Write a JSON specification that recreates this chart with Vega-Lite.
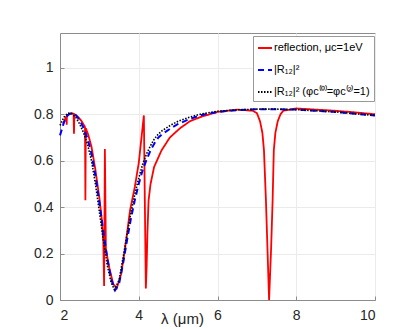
{
  "$schema": "https://vega.github.io/schema/vega-lite/v6.json",
  "autosize": "none",
  "width": 315,
  "height": 267,
  "padding": {"left": 60, "top": 33, "right": 32, "bottom": 29},
  "config": {
    "font": "Liberation Sans",
    "view": {"stroke": "#8c8c8c", "strokeWidth": 1},
    "axis": {
      "domainColor": "#8c8c8c",
      "gridColor": "#ebebeb",
      "gridWidth": 1,
      "tickColor": "#8c8c8c",
      "labelColor": "#262626",
      "titleColor": "#262626",
      "labelFontSize": 14,
      "labelFont": "Liberation Sans",
      "titleFont": "Liberation Sans"
    }
  },
  "data": {
    "values": [
      {"series": "refl", "x": 2.08, "y": 0.76},
      {"series": "refl", "x": 2.15, "y": 0.787},
      {"series": "refl", "x": 2.165, "y": 0.79},
      {"series": "refl", "x": 2.17, "y": 0.755},
      {"series": "refl", "x": 2.175, "y": 0.792},
      {"series": "refl", "x": 2.22, "y": 0.80},
      {"series": "refl", "x": 2.30, "y": 0.805},
      {"series": "refl", "x": 2.345, "y": 0.80},
      {"series": "refl", "x": 2.355, "y": 0.716},
      {"series": "refl", "x": 2.365, "y": 0.80},
      {"series": "refl", "x": 2.45, "y": 0.79},
      {"series": "refl", "x": 2.55, "y": 0.77},
      {"series": "refl", "x": 2.635, "y": 0.745},
      {"series": "refl", "x": 2.645, "y": 0.43},
      {"series": "refl", "x": 2.655, "y": 0.74},
      {"series": "refl", "x": 2.72, "y": 0.71},
      {"series": "refl", "x": 2.80, "y": 0.66},
      {"series": "refl", "x": 2.90, "y": 0.56},
      {"series": "refl", "x": 3.00, "y": 0.44},
      {"series": "refl", "x": 3.06, "y": 0.35},
      {"series": "refl", "x": 3.10, "y": 0.25},
      {"series": "refl", "x": 3.12, "y": 0.06},
      {"series": "refl", "x": 3.14, "y": 0.65},
      {"series": "refl", "x": 3.165, "y": 0.22},
      {"series": "refl", "x": 3.25, "y": 0.14},
      {"series": "refl", "x": 3.35, "y": 0.07},
      {"series": "refl", "x": 3.44, "y": 0.05},
      {"series": "refl", "x": 3.55, "y": 0.11},
      {"series": "refl", "x": 3.65, "y": 0.22},
      {"series": "refl", "x": 3.78, "y": 0.387},
      {"series": "refl", "x": 3.90, "y": 0.487},
      {"series": "refl", "x": 4.00, "y": 0.59},
      {"series": "refl", "x": 4.13, "y": 0.795},
      {"series": "refl", "x": 4.18, "y": 0.05},
      {"series": "refl", "x": 4.20, "y": 0.143},
      {"series": "refl", "x": 4.22, "y": 0.287},
      {"series": "refl", "x": 4.25, "y": 0.43},
      {"series": "refl", "x": 4.30, "y": 0.50},
      {"series": "refl", "x": 4.39, "y": 0.573},
      {"series": "refl", "x": 4.58, "y": 0.645},
      {"series": "refl", "x": 4.79, "y": 0.70},
      {"series": "refl", "x": 5.05, "y": 0.74},
      {"series": "refl", "x": 5.30, "y": 0.77},
      {"series": "refl", "x": 5.60, "y": 0.79},
      {"series": "refl", "x": 6.00, "y": 0.81},
      {"series": "refl", "x": 6.50, "y": 0.82},
      {"series": "refl", "x": 6.90, "y": 0.815},
      {"series": "refl", "x": 7.00, "y": 0.805},
      {"series": "refl", "x": 7.08, "y": 0.77},
      {"series": "refl", "x": 7.14, "y": 0.72},
      {"series": "refl", "x": 7.18, "y": 0.645},
      {"series": "refl", "x": 7.23, "y": 0.43},
      {"series": "refl", "x": 7.27, "y": 0.215},
      {"series": "refl", "x": 7.31, "y": 0.0},
      {"series": "refl", "x": 7.36, "y": 0.215},
      {"series": "refl", "x": 7.40, "y": 0.43},
      {"series": "refl", "x": 7.43, "y": 0.645},
      {"series": "refl", "x": 7.47, "y": 0.72},
      {"series": "refl", "x": 7.53, "y": 0.77},
      {"series": "refl", "x": 7.60, "y": 0.80},
      {"series": "refl", "x": 7.67, "y": 0.815},
      {"series": "refl", "x": 8.00, "y": 0.825},
      {"series": "refl", "x": 8.50, "y": 0.82},
      {"series": "refl", "x": 9.00, "y": 0.815},
      {"series": "refl", "x": 9.50, "y": 0.808},
      {"series": "refl", "x": 10.00, "y": 0.80},

      {"series": "R12", "x": 2.0, "y": 0.709},
      {"series": "R12", "x": 2.1, "y": 0.765},
      {"series": "R12", "x": 2.2, "y": 0.797},
      {"series": "R12", "x": 2.3, "y": 0.805},
      {"series": "R12", "x": 2.4, "y": 0.797},
      {"series": "R12", "x": 2.5, "y": 0.775},
      {"series": "R12", "x": 2.6, "y": 0.74},
      {"series": "R12", "x": 2.7, "y": 0.695},
      {"series": "R12", "x": 2.8, "y": 0.63},
      {"series": "R12", "x": 2.9, "y": 0.535},
      {"series": "R12", "x": 3.0, "y": 0.42},
      {"series": "R12", "x": 3.1, "y": 0.295},
      {"series": "R12", "x": 3.2, "y": 0.18},
      {"series": "R12", "x": 3.3, "y": 0.09},
      {"series": "R12", "x": 3.4, "y": 0.042},
      {"series": "R12", "x": 3.5, "y": 0.07},
      {"series": "R12", "x": 3.6, "y": 0.155},
      {"series": "R12", "x": 3.7, "y": 0.255},
      {"series": "R12", "x": 3.8, "y": 0.35},
      {"series": "R12", "x": 3.9, "y": 0.43},
      {"series": "R12", "x": 4.0, "y": 0.50},
      {"series": "R12", "x": 4.1, "y": 0.56},
      {"series": "R12", "x": 4.2, "y": 0.605},
      {"series": "R12", "x": 4.3, "y": 0.645},
      {"series": "R12", "x": 4.4, "y": 0.675},
      {"series": "R12", "x": 4.5, "y": 0.70},
      {"series": "R12", "x": 4.6, "y": 0.715},
      {"series": "R12", "x": 4.8, "y": 0.738},
      {"series": "R12", "x": 5.0, "y": 0.758},
      {"series": "R12", "x": 5.3, "y": 0.78},
      {"series": "R12", "x": 5.6, "y": 0.797},
      {"series": "R12", "x": 6.0, "y": 0.81},
      {"series": "R12", "x": 6.5, "y": 0.818},
      {"series": "R12", "x": 7.0, "y": 0.822},
      {"series": "R12", "x": 7.5, "y": 0.822},
      {"series": "R12", "x": 8.0, "y": 0.82},
      {"series": "R12", "x": 8.5, "y": 0.815},
      {"series": "R12", "x": 9.0, "y": 0.81},
      {"series": "R12", "x": 9.5, "y": 0.802},
      {"series": "R12", "x": 10.0, "y": 0.795},

      {"series": "R12phi", "x": 2.0, "y": 0.752},
      {"series": "R12phi", "x": 2.1, "y": 0.787},
      {"series": "R12phi", "x": 2.2, "y": 0.805},
      {"series": "R12phi", "x": 2.3, "y": 0.803},
      {"series": "R12phi", "x": 2.4, "y": 0.787},
      {"series": "R12phi", "x": 2.5, "y": 0.758},
      {"series": "R12phi", "x": 2.6, "y": 0.72},
      {"series": "R12phi", "x": 2.7, "y": 0.67},
      {"series": "R12phi", "x": 2.8, "y": 0.60},
      {"series": "R12phi", "x": 2.9, "y": 0.50},
      {"series": "R12phi", "x": 3.0, "y": 0.38},
      {"series": "R12phi", "x": 3.1, "y": 0.26},
      {"series": "R12phi", "x": 3.2, "y": 0.15},
      {"series": "R12phi", "x": 3.3, "y": 0.075},
      {"series": "R12phi", "x": 3.38, "y": 0.045},
      {"series": "R12phi", "x": 3.5, "y": 0.085},
      {"series": "R12phi", "x": 3.6, "y": 0.18},
      {"series": "R12phi", "x": 3.7, "y": 0.28},
      {"series": "R12phi", "x": 3.8, "y": 0.375},
      {"series": "R12phi", "x": 3.9, "y": 0.455},
      {"series": "R12phi", "x": 4.0, "y": 0.525},
      {"series": "R12phi", "x": 4.1, "y": 0.585},
      {"series": "R12phi", "x": 4.2, "y": 0.63},
      {"series": "R12phi", "x": 4.3, "y": 0.665},
      {"series": "R12phi", "x": 4.4, "y": 0.695},
      {"series": "R12phi", "x": 4.5, "y": 0.715},
      {"series": "R12phi", "x": 4.6, "y": 0.73},
      {"series": "R12phi", "x": 4.8, "y": 0.752},
      {"series": "R12phi", "x": 5.0, "y": 0.77},
      {"series": "R12phi", "x": 5.3, "y": 0.788},
      {"series": "R12phi", "x": 5.6, "y": 0.802},
      {"series": "R12phi", "x": 6.0, "y": 0.813},
      {"series": "R12phi", "x": 6.5, "y": 0.819},
      {"series": "R12phi", "x": 7.0, "y": 0.822},
      {"series": "R12phi", "x": 7.5, "y": 0.822},
      {"series": "R12phi", "x": 8.0, "y": 0.82},
      {"series": "R12phi", "x": 8.5, "y": 0.815},
      {"series": "R12phi", "x": 9.0, "y": 0.81},
      {"series": "R12phi", "x": 9.5, "y": 0.802},
      {"series": "R12phi", "x": 10.0, "y": 0.795}
    ]
  },
  "encoding": {
    "x": {
      "field": "x", "type": "quantitative",
      "scale": {"domain": [2, 10], "nice": false, "zero": false},
      "axis": {
        "values": [2, 4, 6, 8, 10],
        "title": "λ (μm)",
        "titleFontSize": 15,
        "titleFontWeight": "normal",
        "titleX": 122,
        "titleY": 23,
        "titleAlign": "center",
        "titleBaseline": "alphabetic",
        "tickSize": -4,
        "labelPadding": 12,
        "labelBaseline": "top"
      }
    },
    "y": {
      "field": "y", "type": "quantitative",
      "scale": {"domain": [0, 1.15], "nice": false},
      "axis": {
        "values": [0, 0.2, 0.4, 0.6, 0.8, 1],
        "format": ".1~f",
        "title": null,
        "tickSize": -4,
        "labelPadding": 11
      }
    },
    "color": {
      "field": "series", "type": "nominal",
      "scale": {"domain": ["refl", "R12", "R12phi"], "range": ["#ff0000", "#0000ff", "#000000"]},
      "legend": {
        "title": null,
        "orient": "none",
        "legendX": 193,
        "legendY": 3,
        "labelExpr": "datum.value == 'refl' ? 'reflection, μc=1eV' : datum.value == 'R12' ? '|R₁₂|²' : '|R₁₂|² (φc⁽⁰⁾=φc⁽²⁾=1)'",
        "labelFontSize": 11,
        "labelColor": "#000000",
        "labelOffset": 1,
        "symbolType": "stroke",
        "symbolSize": 196,
        "symbolStrokeWidth": 2,
        "rowPadding": 9,
        "padding": 4,
        "strokeColor": "#999999",
        "fillColor": "#ffffff"
      }
    },
    "strokeDash": {
      "field": "series", "type": "nominal",
      "scale": {"domain": ["refl", "R12", "R12phi"], "range": [[1, 0], [6, 4], [1.5, 1.5]]},
      "legend": null
    }
  },
  "layer": [
    {"transform": [{"filter": "datum.series == 'refl'"}], "mark": {"type": "line", "strokeWidth": 1.8}},
    {"transform": [{"filter": "datum.series == 'R12'"}], "mark": {"type": "line", "strokeWidth": 2}},
    {"transform": [{"filter": "datum.series == 'R12phi'"}], "mark": {"type": "line", "strokeWidth": 1.6}}
  ]
}
